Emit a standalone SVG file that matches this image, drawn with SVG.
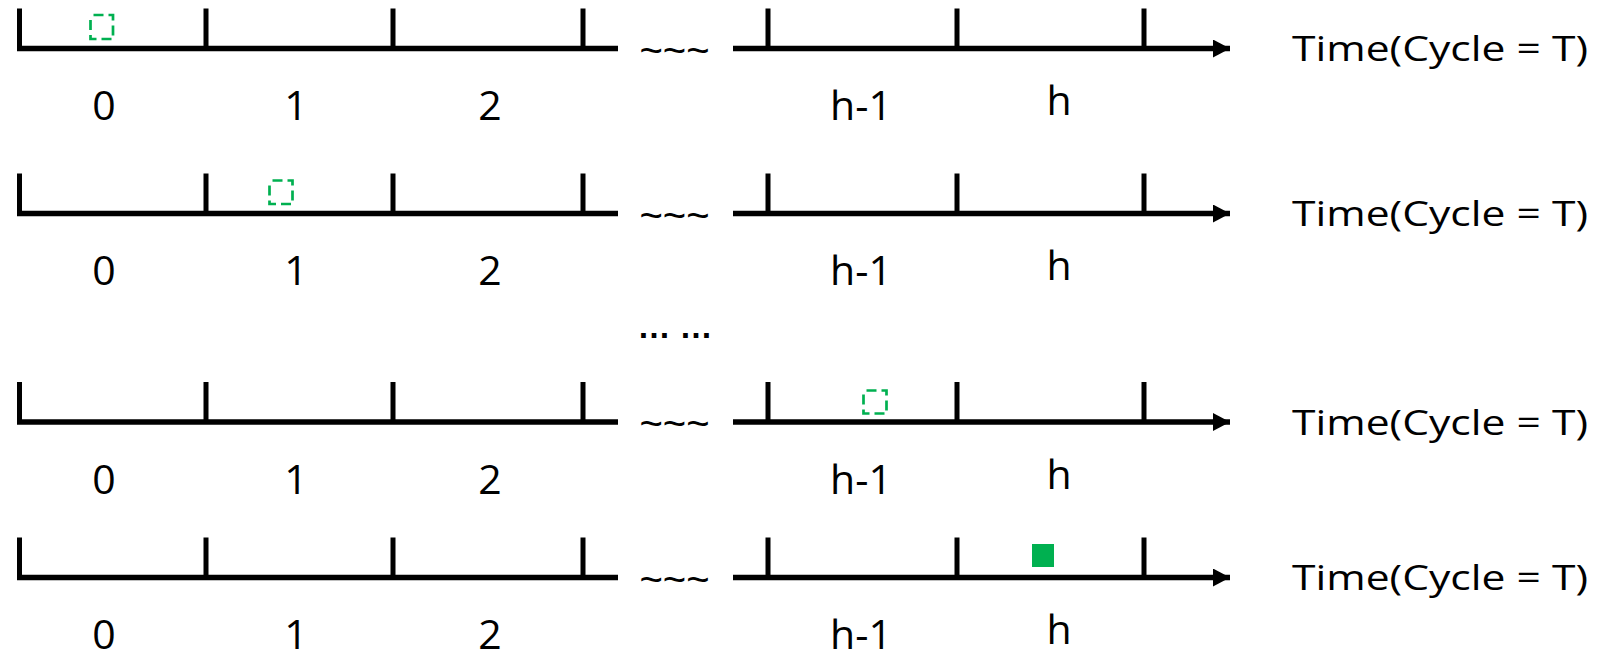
<svg xmlns="http://www.w3.org/2000/svg" xmlns:xlink="http://www.w3.org/1999/xlink" width="1601" height="653" viewBox="0 0 1601 653">
  <style>
    .ln { stroke: #000; stroke-width: 5.5; fill: none; }
    .tk { stroke: #000; stroke-width: 5; fill: none; }
    .lbl { font-family: "Open Sans", "Liberation Sans", sans-serif; font-size: 41px; fill: #000; text-anchor: middle; }
    .time { font-family: "Open Sans", "Liberation Sans", sans-serif; font-size: 34px; fill: #000; }
    .tilde { font-family: "Liberation Sans", Arial, sans-serif; font-size: 40px; fill: #000; text-anchor: middle; }
    .dots { font-family: "Liberation Sans", Arial, sans-serif; font-size: 33px; font-weight: bold; fill: #000; text-anchor: middle; }
    .box { fill: none; stroke: #00B050; stroke-width: 2.7; stroke-dasharray: 10 5; stroke-dashoffset: -3; }
    .boxf { fill: #00B050; stroke: none; }
  </style>
  <defs>
    <marker id="arr" markerUnits="userSpaceOnUse" markerWidth="18" markerHeight="20" refX="17" refY="9" orient="auto">
      <path d="M0,0 L17,9 L0,18 Z" fill="#000"/>
    </marker>
    <g id="axis">
      <path class="ln" d="M17,0 H618"/>
      <path class="tk" d="M19.5,-40 V0 M206,-40 V0 M393,-40 V0 M583,-40 V0"/>
      <text class="tilde" x="674.5" y="15">~~~</text>
      <path class="ln" d="M733,0 H1230" marker-end="url(#arr)"/>
      <path class="tk" d="M768,-40 V0 M957,-40 V0 M1144,-40 V0"/>
      <text class="time" x="1292" y="12.5" textLength="296" lengthAdjust="spacingAndGlyphs">Time(Cycle = T)</text>
      <text class="lbl" x="104" y="71.5">0</text>
      <text class="lbl" x="296" y="71.5">1</text>
      <text class="lbl" x="490" y="71.5">2</text>
      <text class="lbl" x="861" y="71.5">h-1</text>
      <text class="lbl" x="1059" y="66.5">h</text>
    </g>
  </defs>
  <g id="row1" transform="translate(0,48.5)">
    <use xlink:href="#axis" href="#axis"/>
    <rect class="box" x="90.5" y="-33.5" width="22.5" height="24"/>
  </g>
  <g id="row2" transform="translate(0,213.5)">
    <use xlink:href="#axis" href="#axis"/>
    <rect class="box" x="269.5" y="-33" width="23" height="23.5"/>
  </g>
  <g id="ellipsis">
    <text class="dots" x="675" y="338">… …</text>
  </g>
  <g id="row3" transform="translate(0,422)">
    <use xlink:href="#axis" href="#axis"/>
    <rect class="box" x="863.5" y="-31.5" width="23" height="23"/>
  </g>
  <g id="row4" transform="translate(0,577.5)">
    <use xlink:href="#axis" href="#axis"/>
    <rect class="boxf" x="1032" y="-33.5" width="22" height="23"/>
  </g>
</svg>
